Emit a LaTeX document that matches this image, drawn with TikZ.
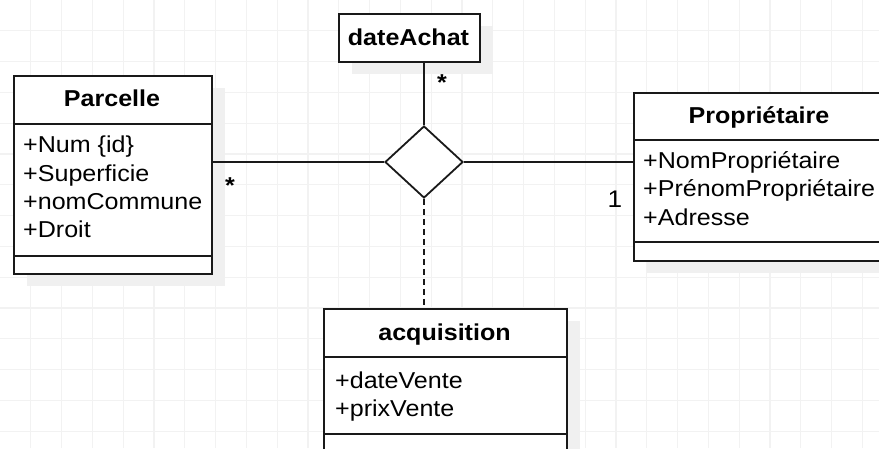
\documentclass[tikz,border=0pt]{standalone}
\usepackage{fontspec}
\setmainfont{Liberation Sans}[FakeStretch=1.09]
\usetikzlibrary{shapes.geometric,shadows}
\begin{document}
\begin{tikzpicture}[x=1pt,y=-1pt,
  gridline/.style={draw=black!5,line width=1.3pt},
  umlbox/.style={draw=black!90,line width=1.8pt,fill=white,anchor=north west,inner sep=0pt,
    drop shadow={shadow xshift=13pt,shadow yshift=-12pt,fill=black!6,opacity=1}},
  sepline/.style={draw=black!90,line width=1.8pt},
  conn/.style={draw=black!90,line width=1.6pt},
  title/.style={font=\fontsize{23}{27}\selectfont\bfseries,anchor=base,inner sep=0pt},
  attr/.style={font=\fontsize{23}{27}\selectfont,anchor=base west,inner sep=0pt},
  mult/.style={font=\fontsize{23}{27}\selectfont\bfseries,inner sep=0pt},
  multn/.style={font=\fontsize{24}{28}\selectfont,inner sep=0pt},
  relshape/.style={diamond,draw=black!90,line width=1.8pt,fill=white,inner sep=0pt,
    minimum width=78pt,minimum height=72pt}
]
\useasboundingbox (0,0) rectangle (879,448);
\clip (0,0) rectangle (879,448);
\fill[white] (0,0) rectangle (879,448);
\foreach \i in {1,...,28} \draw[gridline] ({30.8*\i},0) -- ({30.8*\i},448);
\foreach \j in {1,...,14} \draw[gridline] (0,{30.8*\j}) -- (879,{30.8*\j});

% Parcelle
\node[umlbox,minimum width=198pt,minimum height=198pt] (parcelle) at (13,75) {};
\draw[sepline] (13,124) -- (211,124);
\draw[sepline] (13,256) -- (211,256);
\node[title] (parcelleT) at (112,106.7) {Parcelle};
\node[attr] (p1) at (23,152.7) {+Num \{id\}};
\node[attr] (p2) at (23,181) {+Superficie};
\node[attr] (p3) at (23,209.3) {+nomCommune};
\node[attr] (p4) at (23,237.6) {+Droit};

% dateAchat
\node[umlbox,minimum width=141pt,minimum height=48pt] (dateachat) at (338,13) {};
\node[title] (dateachatT) at (408.5,45) {dateAchat};

% Propriétaire
\node[umlbox,minimum width=252pt,minimum height=168pt] (proprio) at (633,92) {};
\draw[sepline] (633,140) -- (885,140);
\draw[sepline] (633,242) -- (885,242);
\node[title] (proprioT) at (759,123.3) {Propriétaire};
\node[attr] (r1) at (643,168.3) {+NomPropriétaire};
\node[attr] (r2) at (643,196.9) {+PrénomPropriétaire};
\node[attr] (r3) at (643,225.5) {+Adresse};

% acquisition
\node[umlbox,minimum width=243pt,minimum height=150pt] (acq) at (323,308) {};
\draw[sepline] (323,357) -- (566,357);
\draw[sepline] (323,434) -- (566,434);
\node[title] (acqT) at (444.5,340) {acquisition};
\node[attr] (a1) at (335,388.3) {+dateVente};
\node[attr] (a2) at (335,416.7) {+prixVente};

% relation diamond
\node[relshape] (rel) at (424,162) {};

% connectors
\draw[conn] (parcelle.east |- rel.west) -- (rel.west);
\draw[conn] (rel.east) -- (proprio.west |- rel.east);
\draw[conn] (rel.north) -- (rel.north |- dateachat.south);
\draw[conn,dash pattern=on 6pt off 4pt] (rel.south) -- (rel.south |- acq.north);

% multiplicities
\node[mult] (m1) at (230,186) {*};
\node[mult] (m2) at (442,83) {*};
\node[multn] (m3) at (615,199) {1};
\end{tikzpicture}
\end{document}
